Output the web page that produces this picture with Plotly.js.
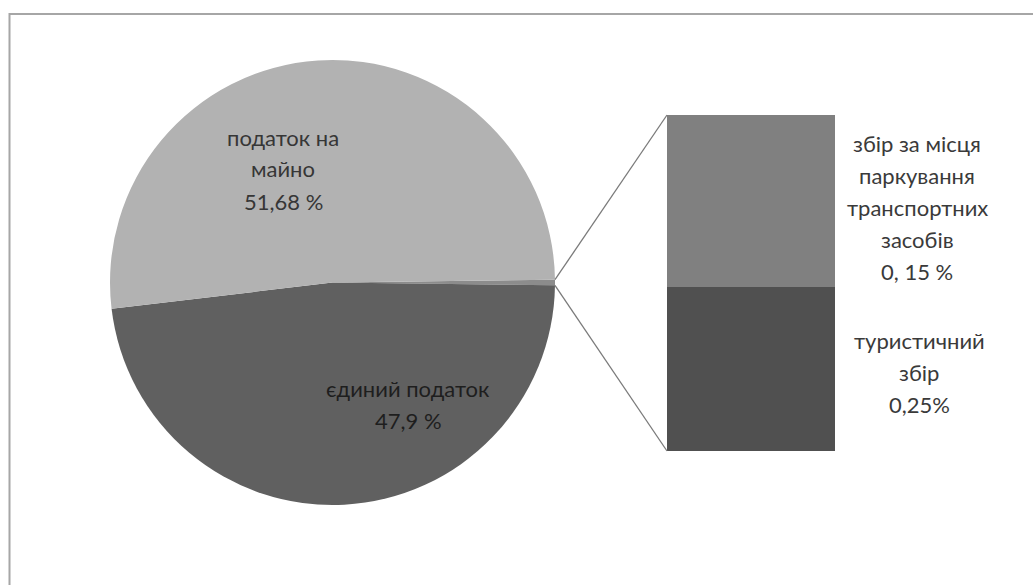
<!DOCTYPE html>
<html><head><meta charset="utf-8">
<script src="https://cdn.plot.ly/plotly-3.0.1.min.js"></script>
<style>html,body{margin:0;padding:0;background:#fff}#chart{width:1033px;height:585px}</style>
</head><body><div id="chart"></div>
<script>
// ---- data ----
const pieCategories = ['інші збори', 'єдиний податок', 'податок на майно'];
const pieShares = [null, 47.9, 51.68];          // first slice = sum of the bar
const pieLabelLines = [null, ['єдиний податок', '47,9 %'], ['податок на', 'майно', '51,68 %']];
const barCategories = ['туристичний збір', 'збір за місця паркування транспортних засобів'];
const barValues = [0.195, 0.205];                 // heights as drawn
const barLabelLines = [['туристичний', 'збір', '0,25%'],
                       ['збір за місця', 'паркування', 'транспортних', 'засобів', '0, 15 %']];

// ---- style / layout constants ----
const W = 1033, H = 585;
const pieColors = ['#8c8c8c', '#606060', '#b2b2b2'];
const barColors = ['#505050', '#808080'];
const pieTextColors = [null, '#1e1e1e', '#363636'];
const barTextColor = '#3a3a3a';
const FONT = 'Lato, "Liberation Sans", sans-serif';
const FS = 22;
const LINE = 32;
const pieBox = {x0: 110, x1: 555, y0: 60, y1: 505};
const barBox = {x0: 667, x1: 835, y0: 115, y1: 451};
const pieLabelCenters = [null, [408, 388], [283, 137]];   // first-line positions
const barLabelCenters = [[919, 340], [917, 143]];

const px = x => x / W, py = y => 1 - y / H;

const otherTotal = barValues.reduce((a, b) => a + b, 0);
const values = pieShares.slice(); values[0] = otherTotal;
const tot = values.reduce((a, b) => a + b, 0);
const halfAng = otherTotal / tot * 180;   // degrees

const pie = {
  type: 'pie', labels: pieCategories, values: values, sort: false,
  direction: 'clockwise', rotation: 90 - halfAng,
  marker: {colors: pieColors, line: {width: 0}},
  textinfo: 'none', hoverinfo: 'none',
  domain: {x: [px(pieBox.x0), px(pieBox.x1)], y: [py(pieBox.y1), py(pieBox.y0)]}
};
const bars = barCategories.map((c, i) => ({
  type: 'bar', x: [0], y: [barValues[i]], name: c, width: 1,
  marker: {color: barColors[i], line: {width: 0}},
  xaxis: 'x', yaxis: 'y', hoverinfo: 'none'
}));

const annotations = [];
function addLines(lines, cx, cy, color) {
  lines.forEach((t, k) => annotations.push({
    xref: 'paper', yref: 'paper', x: px(cx), y: py(cy + k * LINE),
    xanchor: 'center', yanchor: 'middle', text: t, showarrow: false,
    font: {family: FONT, size: FS, color: color}
  }));
}
pieLabelLines.forEach((l, i) => { if (l) addLines(l, pieLabelCenters[i][0], pieLabelCenters[i][1], pieTextColors[i]); });
barLabelLines.forEach((l, i) => addLines(l, barLabelCenters[i][0], barLabelCenters[i][1], barTextColor));

// connectors from the small slice to the bar
const cx = (pieBox.x0 + pieBox.x1) / 2, cy = (pieBox.y0 + pieBox.y1) / 2, r = (pieBox.x1 - pieBox.x0) / 2;
const a = halfAng * Math.PI / 180;
const shapes = [
  {type: 'line', xref: 'paper', yref: 'paper', x0: px(cx + r * Math.cos(a)), y0: py(cy - r * Math.sin(a)),
   x1: px(barBox.x0), y1: py(barBox.y0), line: {color: '#7a7a7a', width: 1.3}},
  {type: 'line', xref: 'paper', yref: 'paper', x0: px(cx + r * Math.cos(a)), y0: py(cy + r * Math.sin(a)),
   x1: px(barBox.x0), y1: py(barBox.y1), line: {color: '#7a7a7a', width: 1.3}},
  {type: 'rect', xref: 'paper', yref: 'paper', x0: px(9.5), y0: -0.05, x1: 1.05, y1: py(14),
   line: {color: '#a6a6a6', width: 2}, layer: 'below'}
];

const layout = {
  width: W, height: H, margin: {l: 0, r: 0, t: 0, b: 0},
  paper_bgcolor: '#ffffff', plot_bgcolor: 'rgba(0,0,0,0)',
  showlegend: false, barmode: 'stack', bargap: 0,
  xaxis: {domain: [px(barBox.x0), px(barBox.x1)], range: [-0.5, 0.5], visible: false, fixedrange: true},
  yaxis: {domain: [py(barBox.y1), py(barBox.y0)], range: [0, otherTotal], visible: false, fixedrange: true},
  annotations: annotations, shapes: shapes
};
Plotly.newPlot('chart', [pie].concat(bars), layout, {staticPlot: true, displayModeBar: false});
</script></body></html>
